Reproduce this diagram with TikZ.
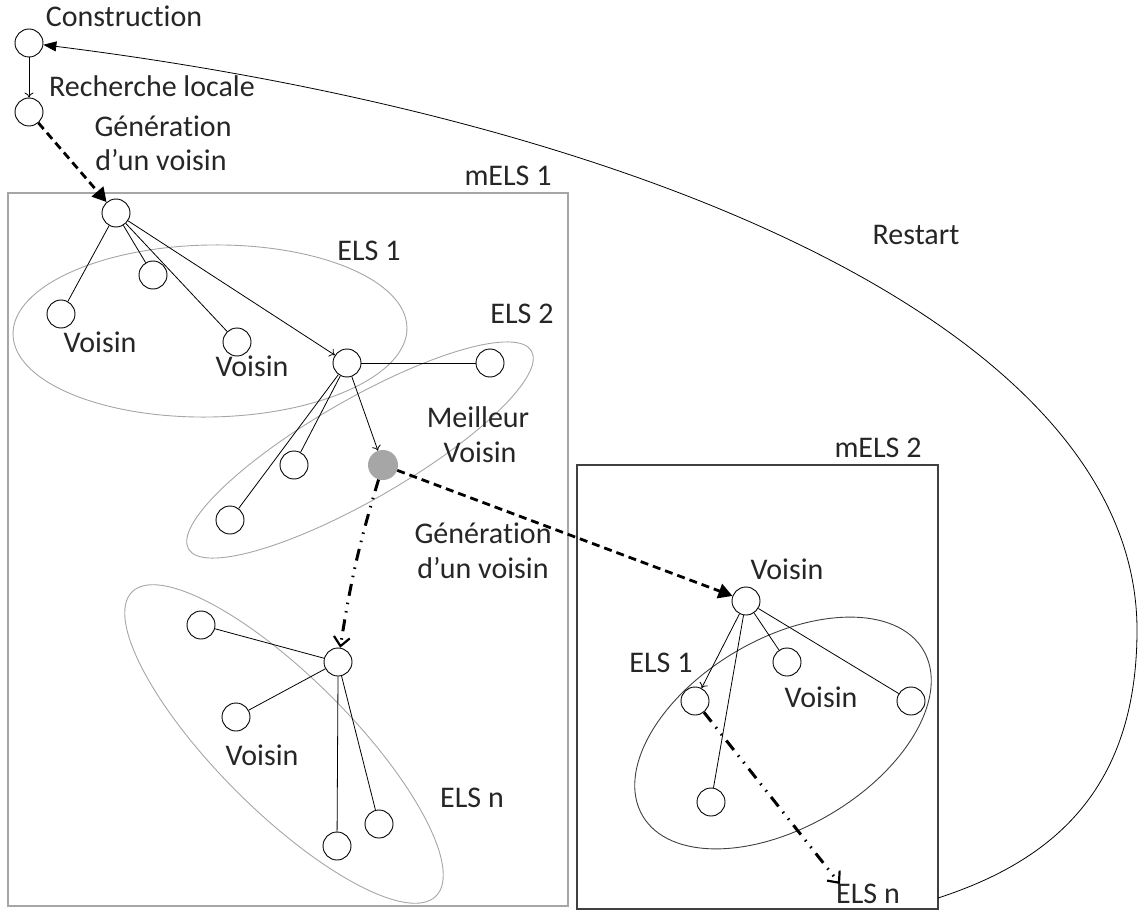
\documentclass[tikz,border=0pt]{standalone}
\usepackage{fontspec}
\setmainfont{Carlito}[Ligatures=NoCommon]
\usetikzlibrary{arrows.meta}
\definecolor{txt}{HTML}{262626}
\definecolor{lgray}{HTML}{A6A6A6}
\definecolor{dgray}{HTML}{404040}
\begin{document}
\begin{tikzpicture}[x=1pt,y=-1pt,
 circ/.style={circle,draw=black,line width=0.9pt,minimum size=28pt,inner sep=0pt,fill=white},
 bestnode/.style={circle,fill=lgray,minimum size=30pt,inner sep=0pt},
 lbl/.style={anchor=base,text=txt,font=\fontsize{30}{35}\selectfont,inner sep=0pt},
 edge/.style={line width=0.8pt},
 tarr/.style={line width=0.8pt,-{To[length=5pt,width=9pt]}},
 dasharr/.style={line width=2.8pt,dash pattern=on 8pt off 5pt,-{Triangle[length=14pt,width=15pt]}},
 ddarr/.style={line width=3pt,dash pattern=on 12pt off 7pt on 1.5pt off 7pt on 1.5pt off 7pt,-{Straight Barb[length=9pt,width=16pt,line width=2.2pt]}},
 lellipse/.style={draw=lgray,line width=0.9pt},
 dellipse/.style={draw=dgray,line width=0.9pt}
]
\useasboundingbox (0,0) rectangle (1138,912);

% containers
\draw[lgray,line width=2pt] (8,193) rectangle (568,906);
\draw[dgray,line width=2pt] (577,465) rectangle (938,909);

% ellipses
\draw[lellipse,rotate around={1:(210,331)}] (210,331) ellipse [x radius=197pt,y radius=86pt];
\draw[lellipse,rotate around={30:(360,450)}] (360,450) ellipse [x radius=198pt,y radius=50pt];
\draw[lellipse,rotate around={-45:(284,744)}] (284,744) ellipse [x radius=215pt,y radius=67pt];
\draw[dellipse,rotate around={30.6:(783,733)}] (783,733) ellipse [x radius=163pt,y radius=94pt];

% nodes
\node[circ] (c1) at (29,43) {};
\node[circ] (c2) at (29,112) {};
\node[circ] (a1) at (116,213) {};
\node[circ] (n1) at (61,314) {};
\node[circ] (n2) at (153,275) {};
\node[circ] (n3) at (237,342) {};
\node[circ] (b) at (347,363) {};
\node[circ] (b1) at (490,363) {};
\node[circ] (b2) at (294,465) {};
\node[circ] (b3) at (230,520) {};
\node[bestnode] (bst) at (383,465) {};
\node[circ] (cc) at (338,662) {};
\node[circ] (cn1) at (201,625) {};
\node[circ] (cn2) at (236,717) {};
\node[circ] (cn3) at (337,846) {};
\node[circ] (cn4) at (379,824) {};
\node[circ] (d) at (746,601) {};
\node[circ] (e1) at (695,701) {};
\node[circ] (d2) at (787,662) {};
\node[circ] (d3) at (911,701) {};
\node[circ] (d4) at (711,802) {};
\coordinate (endn) at (840,884);
\coordinate (rs) at (938,898);

% labels
\node[lbl] (tcons) at (124,27) {Construction};
\node[lbl] (trech) at (152,97) {Recherche locale};
\node[lbl] (tgen1) at (163,137) {Génération};
\node[lbl] (tgen1b) at (161,171) {d’un voisin};
\node[lbl] (tmels1) at (508,186) {mELS 1};
\node[lbl] (tels1) at (369,260) {ELS 1};
\node[lbl] (tels2) at (522,323) {ELS 2};
\node[lbl] (trestart) at (916,245) {Restart};
\node[lbl] (tv1) at (100,352) {Voisin};
\node[lbl] (tv2) at (252,376) {Voisin};
\node[lbl] (tmeil) at (478,427) {Meilleur};
\node[lbl] (tmeilv) at (480,462) {Voisin};
\node[lbl] (tgen2) at (483,543) {Génération};
\node[lbl] (tgen2b) at (483,578) {d’un voisin};
\node[lbl] (tv3) at (262,765) {Voisin};
\node[lbl] (telsn) at (472,807) {ELS n};
\node[lbl] (tmels2) at (878,457) {mELS 2};
\node[lbl] (tvd) at (787,579) {Voisin};
\node[lbl] (tels1b) at (661,672) {ELS 1};
\node[lbl] (tv4) at (821,707) {Voisin};
\node[lbl] (telsnb) at (868,903) {ELS n};

% tree edges
\draw[tarr] (c1) -- (c2);
\draw[edge] (a1) -- (n1);
\draw[edge] (a1) -- (n2);
\draw[edge] (a1) -- (n3);
\draw[tarr] (a1) -- (b);
\draw[edge] (b) -- (b1);
\draw[edge] (b) -- (b2);
\draw[edge] (b) -- (b3);
\draw[tarr] (b) -- (bst);
\draw[edge] (cc) -- (cn1);
\draw[edge] (cc) -- (cn2);
\draw[edge] (cc.south) -- (cn3);
\draw[edge] (cc) -- (cn4);
\draw[tarr] (d) -- (e1);
\draw[edge] (d) -- (d2);
\draw[edge] (d) -- (d3);
\draw[edge] (d) -- (d4);

% special arrows
\draw[dasharr] (c2) -- (a1);
\draw[dasharr] (bst) -- (d);
\draw[ddarr] (bst) to[bend right=4] (cc);
\draw[ddarr] (e1) -- (endn);

% restart
\draw[line width=0.8pt,-{Triangle[length=13pt,width=10pt]}] (rs) .. controls (1052,861) and (1137,790) .. (1137,630) .. controls (1137,330) and (644,120) .. (c1);
\end{tikzpicture}
\end{document}
